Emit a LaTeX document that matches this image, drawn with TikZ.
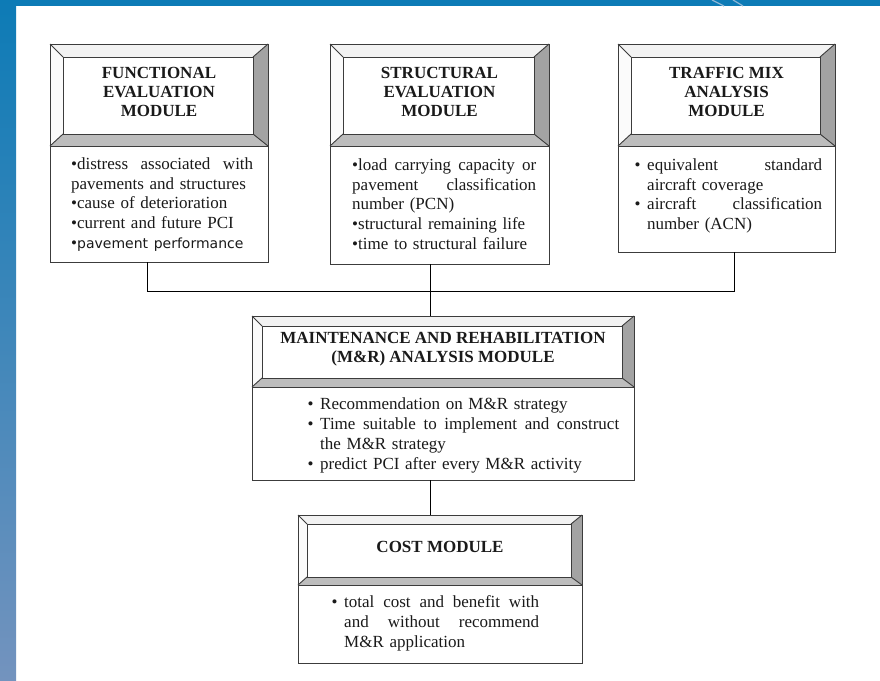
\documentclass[tikz,border=0pt]{standalone}
\usepackage{fontspec}
\setmainfont{Liberation Serif}
\newfontfamily\altsans{DejaVu Sans}
\definecolor{linegray}{HTML}{3C3C3C}
\definecolor{txt}{HTML}{1A1A1A}
\definecolor{bvtopc}{HTML}{F2F2F2}
\definecolor{bvleftc}{HTML}{FBFBFB}
\definecolor{bvrightc}{HTML}{A3A3A3}
\definecolor{bvbotc}{HTML}{BDBDBD}
\definecolor{bandtop}{HTML}{0D7BB6}
\definecolor{bandbot}{HTML}{7393BE}
\definecolor{swoosh}{HTML}{8DB6D6}
\tikzset{
  boxline/.style={draw=linegray, line width=0.9pt},
  headtxt/.style={font=\fontsize{17}{19}\selectfont\bfseries, align=center, text=txt, inner sep=0pt},
  listtxt/.style={font=\fontsize{17}{19.7}\selectfont, align=left, text=txt, inner sep=0pt, anchor=north west},
  listbox/.style={boxline, fill=white, inner sep=0pt, outer sep=0pt, anchor=north west},
  conn/.style={draw=black, line width=1pt},
}
\newcommand\bul{\leavevmode\llap{\makebox[12.5pt][l]{\textbullet}}}
\newcommand\bevelhead[6]{% #1 name, #2 x1, #3 y1, #4 x2, #5 y2, #6 d
  \pgfmathsetmacro\bvax{#2+#6}\pgfmathsetmacro\bvay{#3+#6}%
  \pgfmathsetmacro\bvbx{#4-#6-2}\pgfmathsetmacro\bvby{#5-#6+1}%
  \pgfmathsetmacro\bvw{#4-#2}\pgfmathsetmacro\bvh{#5-#3}%
  \fill[bvtopc] (#2,#3) -- (#4,#3) -- (\bvbx,\bvay) -- (\bvax,\bvay) -- cycle;
  \fill[bvleftc] (#2,#3) -- (\bvax,\bvay) -- (\bvax,\bvby) -- (#2,#5) -- cycle;
  \fill[bvrightc] (#4,#3) -- (#4,#5) -- (\bvbx,\bvby) -- (\bvbx,\bvay) -- cycle;
  \fill[bvbotc] (#2,#5) -- (\bvax,\bvby) -- (\bvbx,\bvby) -- (#4,#5) -- cycle;
  \fill[white] (\bvax,\bvay) rectangle (\bvbx,\bvby);
  \draw[boxline] (\bvax,\bvay) rectangle (\bvbx,\bvby);
  \draw[boxline] (#2,#3) -- (\bvax,\bvay) (#4,#3) -- (\bvbx,\bvay) (#2,#5) -- (\bvax,\bvby) (#4,#5) -- (\bvbx,\bvby);
  \node[boxline, inner sep=0pt, outer sep=0pt, minimum width=\bvw pt, minimum height=\bvh pt] (#1) at ({(#2+#4)/2},{(#3+#5)/2}) {};
}
\begin{document}
\begin{tikzpicture}[x=1pt,y=-1pt]
\useasboundingbox (0,0) rectangle (880,680);
% background
\fill[white] (0,0) rectangle (880,680);
\fill[bandtop] (0,0) rectangle (880,6);
\shade[top color=bandtop, bottom color=bandbot] (0,0) rectangle (16,680);
\draw[swoosh, line width=1.2pt] (712,0) -- (724,6);
\draw[swoosh, line width=1.2pt] (733,0) -- (743,6);

% ---------- top row ----------
\bevelhead{fe}{50}{44}{268}{146}{13}
\node[headtxt] (fe-t) at (159,91.5) {FUNCTIONAL\\EVALUATION\\MODULE};
\node[listbox, minimum width=218pt, minimum height=116pt] (fel) at (50,146) {};
\node[listtxt, text width=182pt] (fel-t) at (71,155.5) {\noindent\strut\makebox[\linewidth][s]{\textbullet distress\hfill associated\hfill with}\\
pavements and structures\\
\textbullet cause of deterioration\\
\textbullet current and future PCI\\
\textbullet{\altsans\fontsize{14}{19.7}\selectfont pavement performance}};

\bevelhead{se}{330}{44}{549}{146}{13}
\node[headtxt] (se-t) at (439.5,91.5) {STRUCTURAL\\EVALUATION\\MODULE};
\node[listbox, minimum width=219pt, minimum height=118pt] (sel) at (330,146) {};
\node[listtxt, text width=184pt] (sel-t) at (352,156.5) {\noindent\strut\makebox[\linewidth][s]{\textbullet load\hfill carrying\hfill capacity\hfill or}\\
\makebox[\linewidth][s]{pavement\hfill classification}\\
number (PCN)\\
\textbullet structural remaining life\\
\textbullet time to structural failure};

\bevelhead{tm}{618}{44}{835}{146}{13}
\node[headtxt] (tm-t) at (726.5,91.5) {TRAFFIC MIX\\ANALYSIS\\MODULE};
\node[listbox, minimum width=217pt, minimum height=106pt] (tml) at (618,146) {};
\node[listtxt, text width=175pt] (tml-t) at (647,156.5) {\noindent\strut\makebox[\linewidth][s]{\bul equivalent\hfill standard}\\
aircraft coverage\\
\makebox[\linewidth][s]{\bul aircraft\hfill classification}\\
number (ACN)};

% ---------- M&R ----------
\bevelhead{mr}{252}{316}{634}{387}{10}
\node[headtxt] (mr-t) at (443,349.5) {MAINTENANCE AND REHABILITATION\\(M\&R) ANALYSIS MODULE};
\node[listbox, minimum width=382pt, minimum height=93pt] (mrl) at (252,387) {};
\node[listtxt, text width=299pt] (mrl-t) at (320,396) {\noindent\strut\bul Recommendation on M\&R strategy\\
\makebox[\linewidth][s]{\bul Time\hfill suitable\hfill to\hfill implement\hfill and\hfill construct}\\
the M\&R strategy\\
\bul predict PCI after every M\&R activity};

% ---------- Cost ----------
\bevelhead{cm}{298}{515}{582}{585}{9}
\node[headtxt] (cm-t) at (440,547) {COST MODULE};
\node[listbox, minimum width=284pt, minimum height=78pt] (cml) at (298,585) {};
\node[listtxt, text width=195pt] (cml-t) at (344,594) {\noindent\strut\makebox[\linewidth][s]{\bul total\hfill cost\hfill and\hfill benefit\hfill with}\\
\makebox[\linewidth][s]{and\hfill without\hfill recommend}\\
M\&R application};

% ---------- connectors ----------
\coordinate (busL) at (147,291);
\coordinate (busM) at (430,291);
\coordinate (busR) at (734,291);
\draw[conn] (fel.south -| busL) -- (busL) -- (busR) -- (tml.south -| busR);
\draw[conn] (sel.south -| busM) -- (mr.north -| busM);
\draw[conn] (mrl.south -| busM) -- (cm.north -| busM);
\end{tikzpicture}
\end{document}
